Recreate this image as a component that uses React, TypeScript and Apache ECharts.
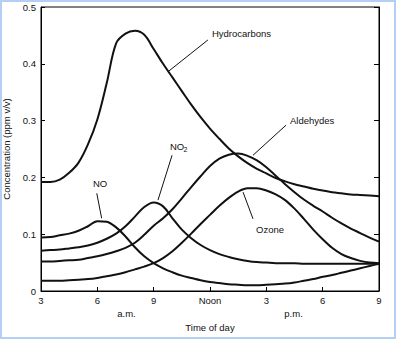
import React, { useEffect, useRef } from "react";
import * as echarts from "echarts";

// ---- Data (hour of day 3 a.m. .. 9 p.m., concentration ppm v/v) ----
const xTickLabels = ["3", "6", "9", "Noon", "3", "6", "9"];

const hours = [3, 3.5, 4, 4.5, 5, 5.5, 6, 6.5, 7, 7.5, 8, 8.5, 9, 9.5, 10, 10.5, 11, 11.5, 12, 12.5, 13, 13.5, 14, 14.5, 15, 15.5, 16, 16.5, 17, 17.5, 18, 18.5, 19, 19.5, 20, 20.5, 21];

const hydrocarbons = [0.192, 0.192, 0.196, 0.208, 0.226, 0.258, 0.302, 0.366, 0.436, 0.453, 0.458, 0.451, 0.426, 0.4, 0.376, 0.352, 0.328, 0.306, 0.286, 0.268, 0.251, 0.237, 0.225, 0.215, 0.207, 0.199, 0.193, 0.188, 0.184, 0.18, 0.177, 0.174, 0.172, 0.17, 0.169, 0.168, 0.167];

const no2 = [0.071, 0.072, 0.073, 0.075, 0.077, 0.08, 0.085, 0.092, 0.101, 0.114, 0.131, 0.148, 0.156, 0.149, 0.128, 0.108, 0.093, 0.081, 0.072, 0.065, 0.06, 0.056, 0.053, 0.051, 0.05, 0.049, 0.049, 0.049, 0.048, 0.048, 0.048, 0.048, 0.048, 0.048, 0.048, 0.048, 0.048];

const no = [0.094, 0.095, 0.098, 0.101, 0.106, 0.114, 0.123, 0.122, 0.112, 0.096, 0.077, 0.061, 0.049, 0.04, 0.033, 0.027, 0.023, 0.019, 0.016, 0.014, 0.012, 0.011, 0.01, 0.01, 0.011, 0.012, 0.013, 0.015, 0.018, 0.021, 0.025, 0.028, 0.032, 0.036, 0.04, 0.044, 0.048];

const aldehydes = [0.052, 0.052, 0.053, 0.054, 0.055, 0.058, 0.061, 0.065, 0.07, 0.076, 0.085, 0.099, 0.115, 0.128, 0.144, 0.163, 0.183, 0.202, 0.22, 0.233, 0.24, 0.242, 0.238, 0.23, 0.218, 0.203, 0.188, 0.174, 0.161, 0.15, 0.14, 0.129, 0.119, 0.11, 0.102, 0.094, 0.087];

const ozone = [0.018, 0.018, 0.018, 0.019, 0.02, 0.021, 0.023, 0.026, 0.029, 0.033, 0.038, 0.043, 0.049, 0.058, 0.07, 0.085, 0.101, 0.118, 0.134, 0.15, 0.164, 0.175, 0.181, 0.181, 0.177, 0.17, 0.16, 0.145, 0.127, 0.108, 0.091, 0.076, 0.065, 0.058, 0.053, 0.05, 0.049];

// annotations (data coordinates)
const annotationLabels = ["Hydrocarbons", "Aldehydes", "NO", "NO", "Ozone"];
const annotationSubscripts = ["", "", "2", "", ""];
const annotationTextAt = [[12.1, 0.454], [16.26, 0.301], [9.87, 0.255], [5.77, 0.19], [14.45, 0.109]];
const leaderFrom = [[11.89, 0.442], [16.05, 0.292], [9.98, 0.239], [5.97, 0.172], [13.76, 0.174]];
const leaderTo = [[9.76, 0.386], [14.29, 0.239], [9.23, 0.16], [6.23, 0.128], [14.29, 0.127]];
const periodLabels = ["a.m.", "p.m."];
const periodHours = [7.55, 16.45];

const FONT = "'Liberation Sans', Arial, Helvetica, sans-serif";
const INK = "#111";

const zip = (h: number[], v: number[]) => h.map((x, i) => [x, v[i]]);

export default function App() {
  const ref = useRef<HTMLDivElement>(null);
  useEffect(() => {
    if (!ref.current) return;
    const chart = echarts.init(ref.current, undefined, { renderer: "svg" });
    const lineSeries = (name: string, v: number[]) => ({
      name,
      type: "line",
      data: zip(hours, v),
      smooth: 0.35,
      symbol: "none",
      lineStyle: { color: INK, width: 2 },
      z: 3,
    });
    chart.setOption({
      animation: false,
      backgroundColor: "#fff",
      textStyle: { fontFamily: FONT },
      grid: {
        left: 41, right: 19, top: 7, bottom: 49,
        outerBoundsMode: "none",
        containLabel: false,
        show: true, borderColor: "#000", borderWidth: 1, backgroundColor: "transparent",
      },
      xAxis: {
        type: "value",
        min: 3,
        max: 21,
        interval: 3,
        name: "Time of day",
        nameLocation: "middle",
        nameGap: 31,
        nameTextStyle: { color: INK, fontSize: 9.5, fontFamily: FONT },
        axisLine: { lineStyle: { color: "#000", width: 1 } },
        axisTick: { inside: true, length: 4, lineStyle: { color: "#000" } },
        axisLabel: {
          color: INK,
          fontSize: 9.5,
          fontFamily: FONT,
          margin: 4,
          formatter: (v: number) => xTickLabels[Math.round((v - 3) / 3)] ?? "",
        },
        splitLine: { show: false },
      },
      yAxis: [
        {
          type: "value",
          min: 0,
          max: 0.5,
          interval: 0.1,
          name: "Concentration (ppm v/v)",
          nameLocation: "middle",
          nameGap: 30,
          nameTextStyle: { color: INK, fontSize: 9.5, fontFamily: FONT },
          axisLine: { show: true, lineStyle: { color: "#000", width: 1 } },
          axisTick: { show: true, inside: true, length: 4, lineStyle: { color: "#000" } },
          axisLabel: {
            color: INK,
            fontSize: 9.5,
            fontFamily: FONT,
            margin: 5,
            formatter: (v: number) => (v === 0 ? "0" : v.toFixed(1)),
          },
          splitLine: { show: false },
        },
        {
          type: "value",
          min: 0,
          max: 0.5,
          interval: 0.1,
          position: "right",
          axisLine: { show: true, lineStyle: { color: "#000", width: 1 } },
          axisTick: { show: true, inside: true, length: 5, lineStyle: { color: "#000" } },
          axisLabel: { show: false },
          splitLine: { show: false },
        },
      ],
      series: [
        lineSeries("Hydrocarbons", hydrocarbons),
        lineSeries("NO2", no2),
        lineSeries("NO", no),
        lineSeries("Aldehydes", aldehydes),
        lineSeries("Ozone", ozone),
      ],
    });

    const px = (p: number[]) => chart.convertToPixel({ xAxisIndex: 0, yAxisIndex: 0 }, p) as number[];
    const graphics: any[] = [
      {
        type: "rect",
        shape: { x: 1, y: 1, width: 394, height: 337 },
        style: { fill: "none", stroke: "#b3cff3", lineWidth: 2 },
        silent: true,
        z: 0,
      },
    ];
    annotationLabels.forEach((label, i) => {
      const t = px(annotationTextAt[i]);
      const a = px(leaderFrom[i]);
      const b = px(leaderTo[i]);
      graphics.push({
        type: "line",
        shape: { x1: a[0], y1: a[1], x2: b[0], y2: b[1] },
        style: { stroke: INK, lineWidth: 1 },
        z: 10,
      });
      graphics.push({
        type: "text",
        x: t[0],
        y: t[1],
        style: { text: label, fill: INK, font: `9.5px ${FONT}`, align: "left", verticalAlign: "middle" },
        z: 10,
      });
      if (annotationSubscripts[i]) {
        graphics.push({
          type: "text",
          x: t[0] + 13.5,
          y: t[1] + 3,
          style: { text: annotationSubscripts[i], fill: INK, font: `7px ${FONT}`, align: "left", verticalAlign: "middle" },
          z: 10,
        });
      }
    });
    periodLabels.forEach((label, i) => {
      const p = px([periodHours[i], 0]);
      graphics.push({
        type: "text",
        x: p[0],
        y: p[1] + 22,
        style: { text: label, fill: INK, font: `9.5px ${FONT}`, align: "center", verticalAlign: "middle" },
        z: 10,
      });
    });
    chart.setOption({ graphic: graphics });

    return () => chart.dispose();
  }, []);
  return (
    <div
      ref={ref}
      style={{ position: "fixed", left: 0, top: 0, width: 398, height: 340 }}
    />
  );
}
